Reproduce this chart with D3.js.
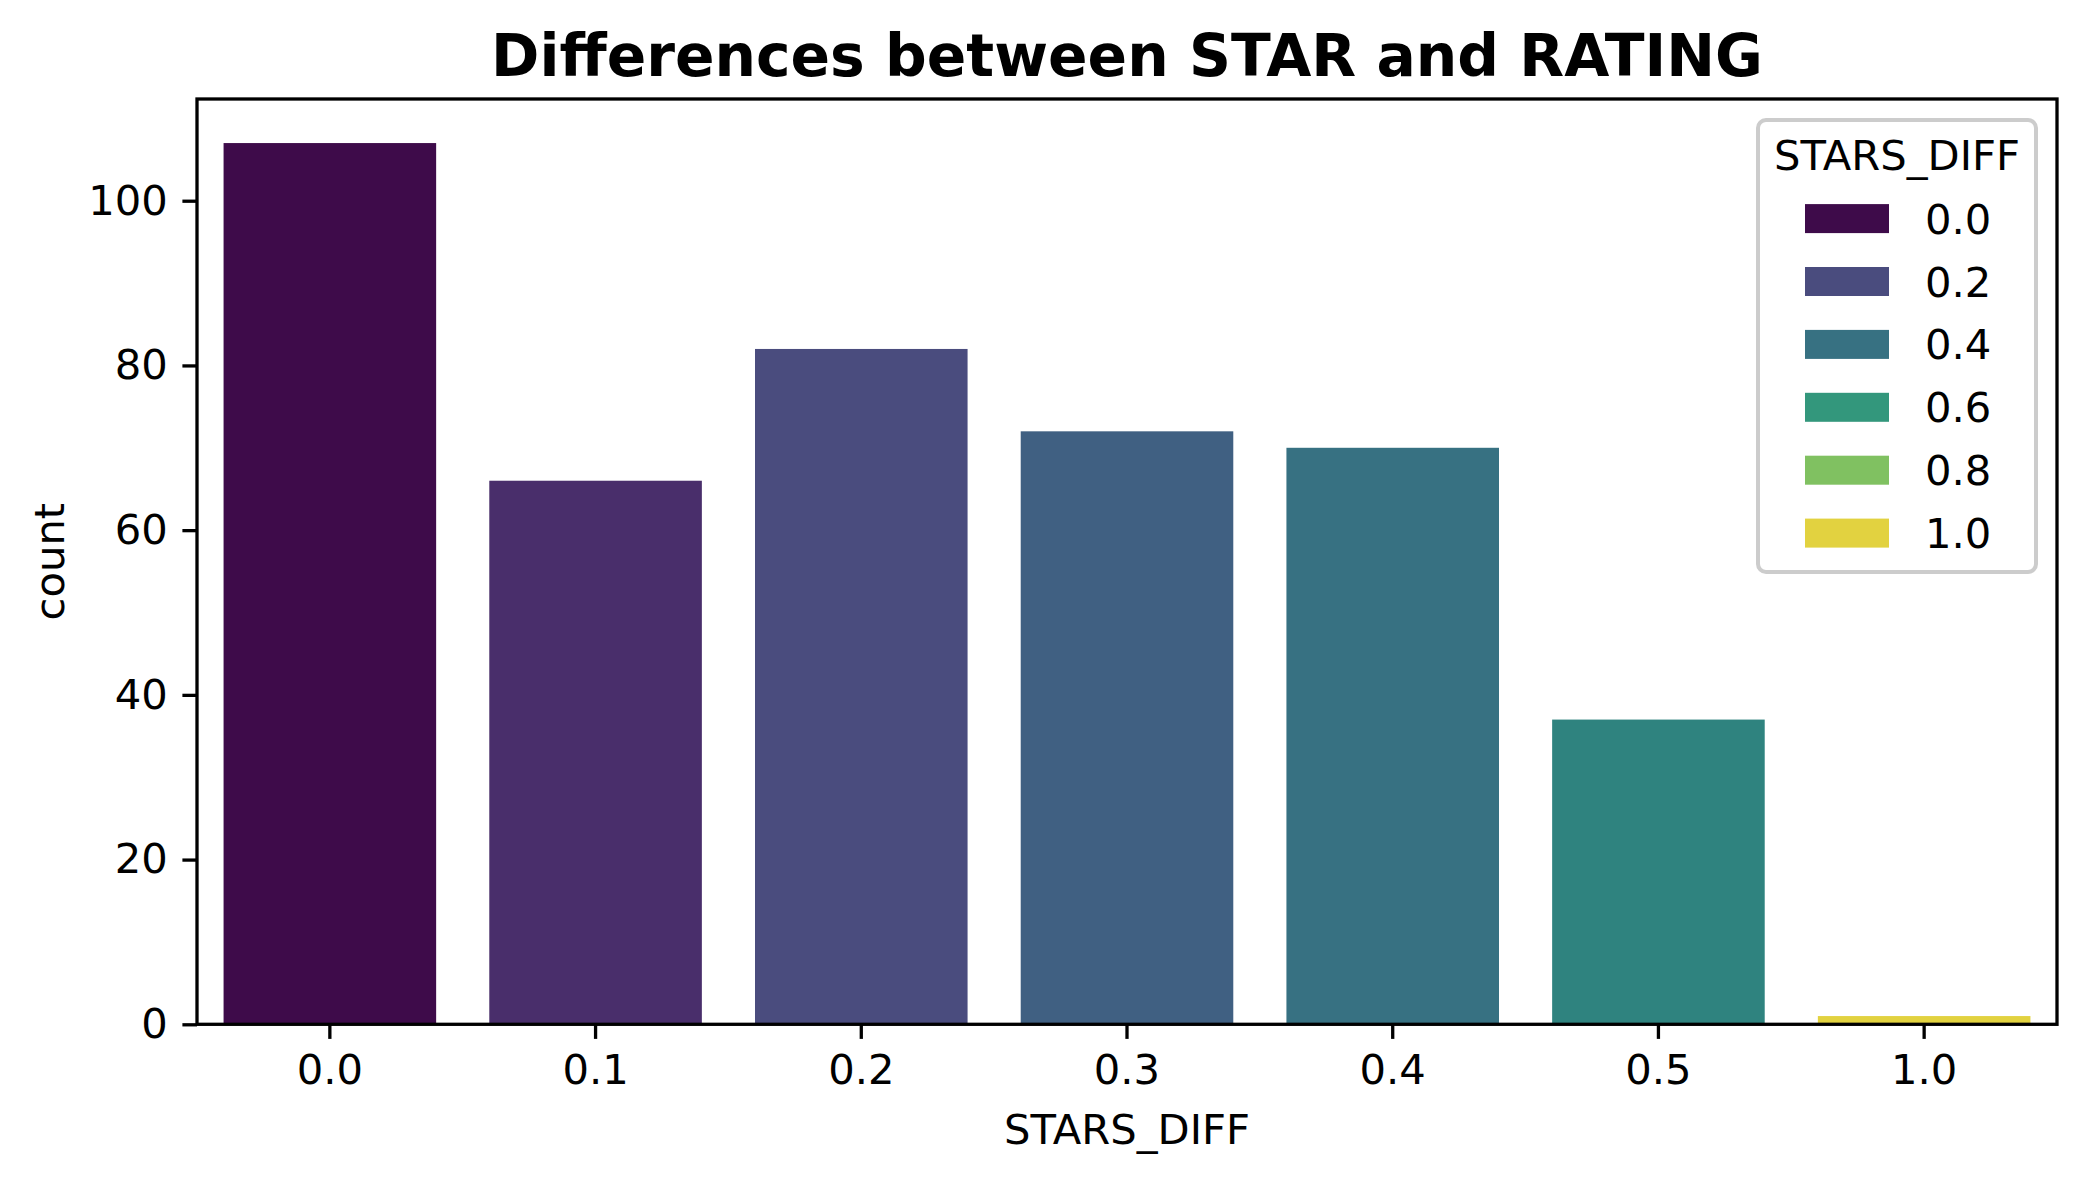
<!DOCTYPE html>
<html>
<head>
<meta charset="utf-8">
<script src="https://cdn.jsdelivr.net/npm/d3@7"></script>
<style>
    body { margin: 0; background: #ffffff; }
    text { font-family: "DejaVu Sans", sans-serif; fill: #000; }
</style>
</head>
<body>
<script>

// values
var categories = ["0.0", "0.1", "0.2", "0.3", "0.4", "0.5", "1.0"];
var starsDiff = [0.0, 0.1, 0.2, 0.3, 0.4, 0.5, 1.0];
var counts = [107, 66, 82, 72, 70, 37, 1];
var yTicks = [0, 20, 40, 60, 80, 100];
var legendValues = [0.0, 0.2, 0.4, 0.6, 0.8, 1.0];
var legendLabels = ["0.0", "0.2", "0.4", "0.6", "0.8", "1.0"];

var width = 2087, height = 1183;
var plot = {left: 197, right: 2057, top: 99, bottom: 1024.3};
var fontSize = 41.7;

// seaborn style: viridis, desaturated to 0.75
function hueColor(v) {
    var c = d3.hsl(d3.interpolateViridis(v));
    c.s = c.s * 0.75;
    return c.formatHex();
}

var svg = d3.select("body").append("svg")
    .attr("width", width)
    .attr("height", height);

var x = d3.scaleBand()
    .domain(categories)
    .range([plot.left, plot.right])
    .paddingInner(0.2)
    .paddingOuter(0.1);

var y = d3.scaleLinear()
    .domain([0, d3.max(counts) * 1.05])
    .range([plot.bottom, plot.top]);

var bars = categories.map(function (c, i) {
    return {cat: c, hue: starsDiff[i], count: counts[i]};
});

svg.append("g").selectAll("rect")
    .data(bars)
    .enter()
    .append("rect")
    .attr("x", function (d) { return x(d.cat); })
    .attr("y", function (d) { return y(d.count); })
    .attr("width", x.bandwidth())
    .attr("height", function (d) { return y(0) - y(d.count); })
    .attr("fill", function (d) { return hueColor(d.hue); });

// axes
var xAxis = svg.append("g")
    .attr("transform", "translate(0," + plot.bottom + ")")
    .call(d3.axisBottom(x).tickSizeOuter(0).tickSize(14.6).tickPadding(14.6));

var yAxis = svg.append("g")
    .attr("transform", "translate(" + plot.left + ",0)")
    .call(d3.axisLeft(y).tickValues(yTicks).tickSizeOuter(0).tickSize(14.6).tickPadding(14.6));

[xAxis, yAxis].forEach(function (g) {
    g.select(".domain").remove();
    g.selectAll(".tick line").attr("stroke", "#000").attr("stroke-width", 3.3);
    g.selectAll(".tick text")
        .attr("font-size", fontSize)
        .attr("font-family", "DejaVu Sans")
        .attr("fill", "#000");
});
xAxis.selectAll(".tick text").attr("dy", "0.74em");

// spines
svg.append("rect")
    .attr("x", plot.left)
    .attr("y", plot.top)
    .attr("width", plot.right - plot.left)
    .attr("height", plot.bottom - plot.top)
    .attr("fill", "none")
    .attr("stroke", "#000")
    .attr("stroke-width", 3.3);

// title and labels
svg.append("text")
    .attr("x", (plot.left + plot.right) / 2)
    .attr("y", 76)
    .attr("text-anchor", "middle")
    .attr("font-size", 58.3)
    .attr("font-weight", "bold")
    .text("Differences between STAR and RATING");

svg.append("text")
    .attr("x", (plot.left + plot.right) / 2)
    .attr("y", 1144)
    .attr("text-anchor", "middle")
    .attr("font-size", fontSize)
    .text("STARS_DIFF");

svg.append("text")
    .attr("transform", "translate(64," + ((plot.top + plot.bottom) / 2) + ") rotate(-90)")
    .attr("text-anchor", "middle")
    .attr("font-size", fontSize)
    .text("count");

// legend
var legend = svg.append("g");

legend.append("rect")
    .attr("x", 1758)
    .attr("y", 120)
    .attr("width", 278)
    .attr("height", 452)
    .attr("rx", 8)
    .attr("fill", "#ffffff")
    .attr("fill-opacity", 0.8)
    .attr("stroke", "#cccccc")
    .attr("stroke-width", 4);

legend.append("text")
    .attr("x", 1897)
    .attr("y", 170)
    .attr("text-anchor", "middle")
    .attr("font-size", fontSize)
    .text("STARS_DIFF");

var rows = legend.selectAll(".legend-row")
    .data(legendValues)
    .enter()
    .append("g")
    .attr("class", "legend-row")
    .attr("transform", function (d, i) { return "translate(0," + (218.6 + i * 62.9) + ")"; });

rows.append("rect")
    .attr("x", 1805)
    .attr("y", -14.5)
    .attr("width", 84)
    .attr("height", 29)
    .attr("fill", function (d) { return hueColor(d); });

rows.append("text")
    .attr("x", 1925)
    .attr("dy", "0.36em")
    .attr("font-size", fontSize)
    .text(function (d, i) { return legendLabels[i]; });

</script>
</body>
</html>
